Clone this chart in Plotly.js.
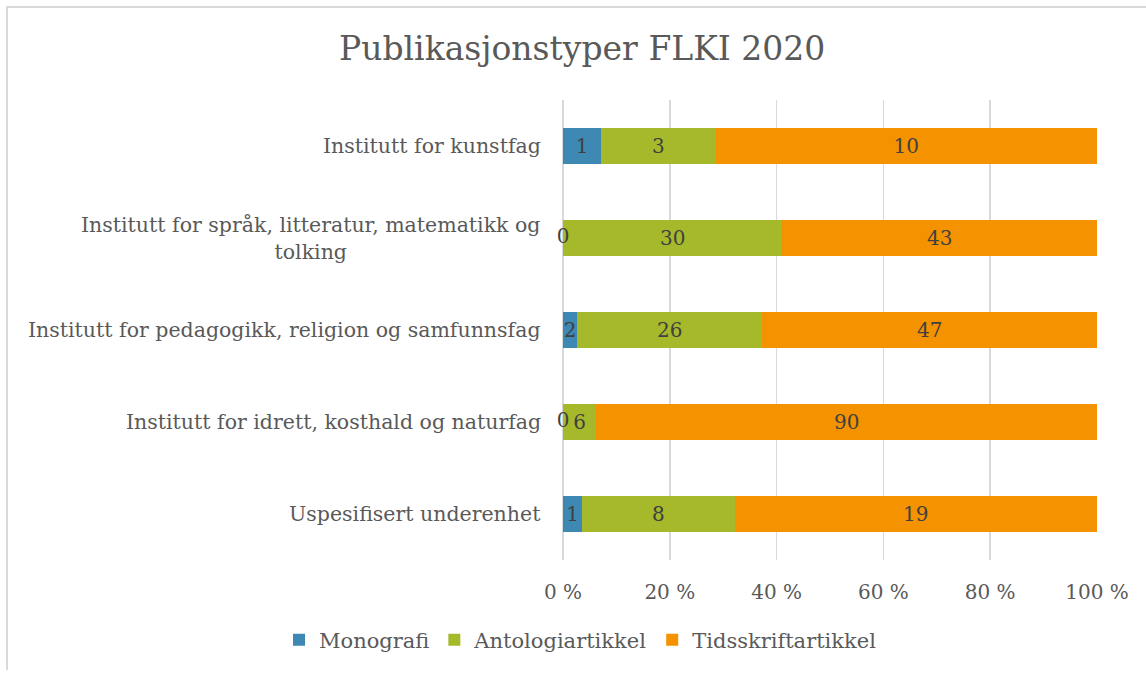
<!DOCTYPE html>
<html>
<head>
<meta charset="utf-8">
<script src="https://cdn.plot.ly/plotly-3.0.1.min.js"></script>
<style>
html,body{margin:0;padding:0;background:#fff;}
#frame{position:absolute;left:6px;top:6px;width:1160px;height:662px;border-left:2px solid #d9d9d9;border-top:2px solid #d9d9d9;pointer-events:none;z-index:5;}
#chart{position:absolute;left:0;top:0;width:1146px;height:675px;}
</style>
</head>
<body>
<div id="chart"></div>
<div id="frame"></div>
<script>
const categories = [
  "Institutt for kunstfag",
  "Institutt for språk, litteratur, matematikk og<br>tolking",
  "Institutt for pedagogikk, religion og samfunnsfag",
  "Institutt for idrett, kosthald og naturfag",
  "Uspesifisert underenhet"
];
const monografi = [1, 0, 2, 0, 1];
const antologiartikkel = [3, 30, 26, 6, 8];
const tidsskriftartikkel = [10, 43, 47, 90, 19];
const seriesNames = ["Monografi", "Antologiartikkel", "Tidsskriftartikkel"];
const colors = ["#3E88B4", "#A6B92B", "#F59200"];
const tickVals = [0, 20, 40, 60, 80, 100];

const FONT = "DejaVu Serif, Liberation Serif, serif";
const series = [monografi, antologiartikkel, tidsskriftartikkel];

const traces = series.map((vals, i) => ({
  type: "bar",
  orientation: "h",
  name: seriesNames[i],
  y: categories,
  x: vals,
  text: vals.map(v => v === 0 ? "" : String(v)),
  textposition: "inside",
  insidetextanchor: "middle",
  textfont: {family: FONT, size: 20, color: "#404040"},
  marker: {color: colors[i], line: {width: 0}},
  hoverinfo: "none"
}));

// zero-valued segments: label drawn at the segment's start
const zeroY = [], zeroX = [], zeroT = [];
series.forEach((vals) => {
  vals.forEach((v, j) => {
    if (v === 0) { zeroY.push(categories[j]); zeroX.push(0); zeroT.push("0"); }
  });
});
traces.push({
  type: "scatter",
  mode: "text",
  x: zeroX,
  y: zeroY,
  text: zeroT,
  textposition: "middle center",
  textfont: {family: FONT, size: 20, color: "#404040"},
  showlegend: false,
  hoverinfo: "none",
  cliponaxis: false
});

const annotations = categories.map(c => ({
  xref: "paper", yref: "y",
  x: 0, y: c,
  xanchor: "right", yanchor: "middle",
  xshift: -20,
  align: "center",
  text: c,
  showarrow: false,
  font: {family: FONT, size: 20.5, color: "#595959"}
}));

const layout = {
  width: 1146, height: 675,
  margin: {l: 563, r: 49, t: 100, b: 115, autoexpand: false},
  paper_bgcolor: "#ffffff",
  plot_bgcolor: "#ffffff",
  barmode: "stack",
  barnorm: "percent",
  bargap: 0.61,
  uniformtext: {mode: "show", minsize: 20},
  title: {
    text: "Publikasjonstyper FLKI 2020",
    font: {family: FONT, size: 33, color: "#595959"},
    xref: "container", x: 0.508, xanchor: "center",
    yref: "container", y: 1 - 48/675, yanchor: "middle"
  },
  xaxis: {
    range: [0, 100],
    tickvals: tickVals,
    ticktext: tickVals.map(v => v + " %"),
    showgrid: true, gridcolor: "#d9d9d9", gridwidth: 1.5,
    zeroline: true, zerolinecolor: "#d9d9d9", zerolinewidth: 1.5,
    showline: false,
    ticks: "",
    ticklabelstandoff: 18,
    tickfont: {family: FONT, size: 20, color: "#595959"},
    fixedrange: true
  },
  yaxis: {
    autorange: "reversed",
    showticklabels: false,
    showgrid: false, zeroline: false, showline: false, ticks: "",
    fixedrange: true
  },
  showlegend: true,
  legend: {
    orientation: "h",
    xref: "paper", x: (279 - 563) / 534, xanchor: "left",
    yref: "paper", y: -(640 - 560) / 460, yanchor: "middle",
    font: {family: FONT, size: 21, color: "#595959"},
    itemwidth: 30,
    traceorder: "normal"
  },
  annotations: annotations
};

Plotly.newPlot("chart", traces, layout, {displayModeBar: false, staticPlot: true});
</script>
</body>
</html>
